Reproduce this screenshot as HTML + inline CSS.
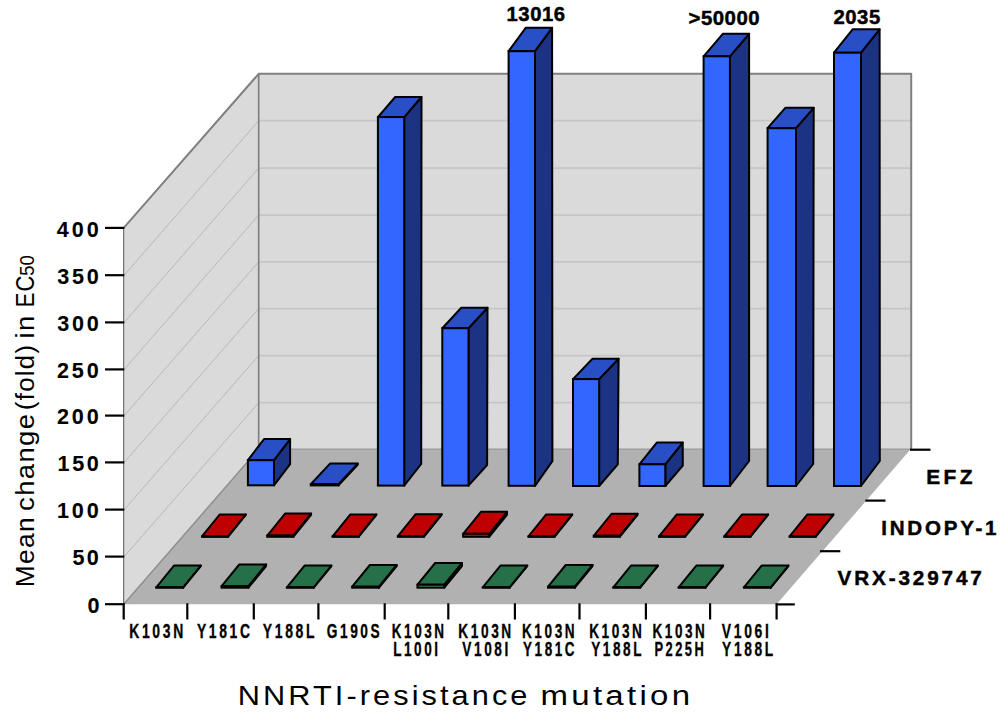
<!DOCTYPE html>
<html><head><meta charset="utf-8"><style>
html,body{margin:0;padding:0;background:#fff;}
svg{display:block;font-family:"Liberation Sans",sans-serif;}
text[font-weight=bold]{stroke:#000;stroke-width:0.45px;}
text.xl{stroke-width:0.3px;}
text.yl{stroke-width:0.1px;}
</style></head><body>
<svg width="1000" height="724" viewBox="0 0 1000 724">
<rect width="1000" height="724" fill="#fff"/>
<rect x="258.7" y="73.8" width="652.50" height="375.30" fill="#dadada"/>
<polygon points="123.7,227.9 258.7,73.8 258.7,449.1 123.7,604.3" fill="#dadada"/>
<line x1="258.7" y1="402.70" x2="911.2" y2="402.70" stroke="#c6c6c6" stroke-width="1.7"/>
<line x1="124.2" y1="556.60" x2="258.7" y2="402.70" stroke="#b8b8b8" stroke-width="1"/>
<line x1="258.7" y1="355.60" x2="911.2" y2="355.60" stroke="#c6c6c6" stroke-width="1.7"/>
<line x1="124.2" y1="509.60" x2="258.7" y2="355.60" stroke="#b8b8b8" stroke-width="1"/>
<line x1="258.7" y1="308.60" x2="911.2" y2="308.60" stroke="#c6c6c6" stroke-width="1.7"/>
<line x1="124.2" y1="462.40" x2="258.7" y2="308.60" stroke="#b8b8b8" stroke-width="1"/>
<line x1="258.7" y1="261.90" x2="911.2" y2="261.90" stroke="#c6c6c6" stroke-width="1.7"/>
<line x1="124.2" y1="415.60" x2="258.7" y2="261.90" stroke="#b8b8b8" stroke-width="1"/>
<line x1="258.7" y1="215.10" x2="911.2" y2="215.10" stroke="#c6c6c6" stroke-width="1.7"/>
<line x1="124.2" y1="369.40" x2="258.7" y2="215.10" stroke="#b8b8b8" stroke-width="1"/>
<line x1="258.7" y1="168.10" x2="911.2" y2="168.10" stroke="#c6c6c6" stroke-width="1.7"/>
<line x1="124.2" y1="322.40" x2="258.7" y2="168.10" stroke="#b8b8b8" stroke-width="1"/>
<line x1="258.7" y1="120.70" x2="911.2" y2="120.70" stroke="#c6c6c6" stroke-width="1.7"/>
<line x1="124.2" y1="275.20" x2="258.7" y2="120.70" stroke="#b8b8b8" stroke-width="1"/>
<polyline points="123.7,227.9 258.7,73.8 911.2,73.8 911.2,449.1" fill="none" stroke="#808080" stroke-width="2" stroke-linejoin="round"/>
<line x1="258.7" y1="73.8" x2="258.7" y2="449.1" stroke="#808080" stroke-width="1.7"/>
<polygon points="123.7,604.3 776.6,604.3 910.8000000000001,449.1 258.7,449.1" fill="#b1b1b1"/>
<line x1="258.7" y1="449.1" x2="911.2" y2="449.1" stroke="#9a9a9a" stroke-width="1.2"/>
<line x1="123.7" y1="604.3" x2="258.7" y2="449.1" stroke="#8e8e8e" stroke-width="1.5"/>
<line x1="123.7" y1="227.9" x2="123.7" y2="604.3" stroke="#555" stroke-width="1"/>
<line x1="105" y1="604.20" x2="124.30" y2="604.20" stroke="#000" stroke-width="2.2"/>
<line x1="105" y1="556.60" x2="124.30" y2="556.60" stroke="#000" stroke-width="2.2"/>
<line x1="105" y1="509.60" x2="124.30" y2="509.60" stroke="#000" stroke-width="2.2"/>
<line x1="105" y1="462.40" x2="124.30" y2="462.40" stroke="#000" stroke-width="2.2"/>
<line x1="105" y1="415.60" x2="124.30" y2="415.60" stroke="#000" stroke-width="2.2"/>
<line x1="105" y1="369.40" x2="124.30" y2="369.40" stroke="#000" stroke-width="2.2"/>
<line x1="105" y1="322.40" x2="124.30" y2="322.40" stroke="#000" stroke-width="2.2"/>
<line x1="105" y1="275.20" x2="124.30" y2="275.20" stroke="#000" stroke-width="2.2"/>
<line x1="105" y1="227.90" x2="124.30" y2="227.90" stroke="#000" stroke-width="2.2"/>
<line x1="123.70" y1="603.30" x2="123.70" y2="619.5" stroke="#000" stroke-width="2.2"/>
<line x1="187.30" y1="603.30" x2="187.30" y2="619.5" stroke="#000" stroke-width="2.2"/>
<line x1="253.80" y1="603.30" x2="253.80" y2="619.5" stroke="#000" stroke-width="2.2"/>
<line x1="318.40" y1="603.30" x2="318.40" y2="619.5" stroke="#000" stroke-width="2.2"/>
<line x1="384.70" y1="603.30" x2="384.70" y2="619.5" stroke="#000" stroke-width="2.2"/>
<line x1="448.30" y1="603.30" x2="448.30" y2="619.5" stroke="#000" stroke-width="2.2"/>
<line x1="514.90" y1="603.30" x2="514.90" y2="619.5" stroke="#000" stroke-width="2.2"/>
<line x1="579.50" y1="603.30" x2="579.50" y2="619.5" stroke="#000" stroke-width="2.2"/>
<line x1="645.90" y1="603.30" x2="645.90" y2="619.5" stroke="#000" stroke-width="2.2"/>
<line x1="710.10" y1="603.30" x2="710.10" y2="619.5" stroke="#000" stroke-width="2.2"/>
<line x1="776.60" y1="603.30" x2="776.60" y2="619.5" stroke="#000" stroke-width="2.2"/>
<line x1="775.80" y1="604.40" x2="794.80" y2="604.40" stroke="#000" stroke-width="2.2"/>
<line x1="820.00" y1="551.20" x2="840.30" y2="551.20" stroke="#000" stroke-width="2.2"/>
<line x1="865.30" y1="500.60" x2="885.50" y2="500.60" stroke="#000" stroke-width="2.2"/>
<line x1="910.00" y1="449.70" x2="930.50" y2="449.70" stroke="#000" stroke-width="2.2"/>
<polygon points="274.00,485.30 290.10,464.20 290.10,439.10 274.00,460.20" fill="#1c3282" stroke="#000" stroke-width="2.0" stroke-linejoin="round"/><polygon points="247.90,460.20 274.00,460.20 290.10,439.10 264.00,439.10" fill="#284fc6" stroke="#000" stroke-width="2.0" stroke-linejoin="round"/><rect x="247.90" y="460.20" width="26.10" height="25.10" fill="#3366ff" stroke="#000" stroke-width="2.0"/>
<polygon points="338.50,485.40 357.70,464.80 357.70,463.60 338.50,484.20" fill="#1c3282" stroke="#000" stroke-width="2.0" stroke-linejoin="round"/><polygon points="310.80,484.20 338.50,484.20 357.70,463.60 330.00,463.60" fill="#284fc6" stroke="#000" stroke-width="2.0" stroke-linejoin="round"/><rect x="310.80" y="484.20" width="27.70" height="1.20" fill="#3366ff" stroke="#000" stroke-width="2.0"/>
<polygon points="404.20,485.60 421.20,464.00 421.50,97.00 404.20,117.10" fill="#1c3282" stroke="#000" stroke-width="2.0" stroke-linejoin="round"/><polygon points="377.90,117.10 404.20,117.10 421.50,97.00 395.20,97.00" fill="#284fc6" stroke="#000" stroke-width="2.0" stroke-linejoin="round"/><rect x="377.90" y="117.10" width="26.30" height="368.50" fill="#3366ff" stroke="#000" stroke-width="2.0"/>
<polygon points="468.50,485.60 487.10,465.00 487.50,307.80 468.50,328.20" fill="#1c3282" stroke="#000" stroke-width="2.0" stroke-linejoin="round"/><polygon points="442.30,328.20 468.50,328.20 487.50,307.80 461.30,307.80" fill="#284fc6" stroke="#000" stroke-width="2.0" stroke-linejoin="round"/><rect x="442.30" y="328.20" width="26.20" height="157.40" fill="#3366ff" stroke="#000" stroke-width="2.0"/>
<polygon points="535.00,485.80 552.40,461.20 552.10,27.80 535.00,51.20" fill="#1c3282" stroke="#000" stroke-width="2.0" stroke-linejoin="round"/><polygon points="508.60,51.20 535.00,51.20 552.10,27.80 525.70,27.80" fill="#284fc6" stroke="#000" stroke-width="2.0" stroke-linejoin="round"/><rect x="508.60" y="51.20" width="26.40" height="434.60" fill="#3366ff" stroke="#000" stroke-width="2.0"/>
<polygon points="599.10,486.00 617.80,464.30 618.60,358.70 599.10,379.10" fill="#1c3282" stroke="#000" stroke-width="2.0" stroke-linejoin="round"/><polygon points="573.00,379.10 599.10,379.10 618.60,358.70 592.50,358.70" fill="#284fc6" stroke="#000" stroke-width="2.0" stroke-linejoin="round"/><rect x="573.00" y="379.10" width="26.10" height="106.90" fill="#3366ff" stroke="#000" stroke-width="2.0"/>
<polygon points="665.30,486.00 682.80,465.70 682.70,442.60 665.30,464.30" fill="#1c3282" stroke="#000" stroke-width="2.0" stroke-linejoin="round"/><polygon points="639.40,464.30 665.30,464.30 682.70,442.60 656.80,442.60" fill="#284fc6" stroke="#000" stroke-width="2.0" stroke-linejoin="round"/><rect x="639.40" y="464.30" width="25.90" height="21.70" fill="#3366ff" stroke="#000" stroke-width="2.0"/>
<polygon points="729.90,486.00 749.10,461.00 749.10,33.80 729.90,56.30" fill="#1c3282" stroke="#000" stroke-width="2.0" stroke-linejoin="round"/><polygon points="703.60,56.30 729.90,56.30 749.10,33.80 722.80,33.80" fill="#284fc6" stroke="#000" stroke-width="2.0" stroke-linejoin="round"/><rect x="703.60" y="56.30" width="26.30" height="429.70" fill="#3366ff" stroke="#000" stroke-width="2.0"/>
<polygon points="796.00,486.00 813.20,464.00 813.70,107.80 796.00,128.20" fill="#1c3282" stroke="#000" stroke-width="2.0" stroke-linejoin="round"/><polygon points="767.60,128.20 796.00,128.20 813.70,107.80 785.30,107.80" fill="#284fc6" stroke="#000" stroke-width="2.0" stroke-linejoin="round"/><rect x="767.60" y="128.20" width="28.40" height="357.80" fill="#3366ff" stroke="#000" stroke-width="2.0"/>
<polygon points="861.00,486.00 879.80,461.00 879.60,29.30 861.00,52.70" fill="#1c3282" stroke="#000" stroke-width="2.0" stroke-linejoin="round"/><polygon points="834.00,52.70 861.00,52.70 879.60,29.30 852.60,29.30" fill="#284fc6" stroke="#000" stroke-width="2.0" stroke-linejoin="round"/><rect x="834.00" y="52.70" width="27.00" height="433.30" fill="#3366ff" stroke="#000" stroke-width="2.0"/>
<polygon points="228.00,536.80 245.80,514.80 245.80,514.40 228.00,536.40" fill="#7a0000" stroke="#000" stroke-width="2.0" stroke-linejoin="round"/><polygon points="202.00,536.40 228.00,536.40 245.80,514.40 219.80,514.40" fill="#bf0000" stroke="#000" stroke-width="2.0" stroke-linejoin="round"/><rect x="202.00" y="536.40" width="26.00" height="0.40" fill="#e00000" stroke="#000" stroke-width="2.0"/>
<polygon points="293.29,536.80 311.09,514.80 311.09,513.60 293.29,535.60" fill="#7a0000" stroke="#000" stroke-width="2.0" stroke-linejoin="round"/><polygon points="267.29,535.60 293.29,535.60 311.09,513.60 285.09,513.60" fill="#bf0000" stroke="#000" stroke-width="2.0" stroke-linejoin="round"/><rect x="267.29" y="535.60" width="26.00" height="1.20" fill="#e00000" stroke="#000" stroke-width="2.0"/>
<polygon points="358.58,536.80 376.38,514.80 376.38,514.40 358.58,536.40" fill="#7a0000" stroke="#000" stroke-width="2.0" stroke-linejoin="round"/><polygon points="332.58,536.40 358.58,536.40 376.38,514.40 350.38,514.40" fill="#bf0000" stroke="#000" stroke-width="2.0" stroke-linejoin="round"/><rect x="332.58" y="536.40" width="26.00" height="0.40" fill="#e00000" stroke="#000" stroke-width="2.0"/>
<polygon points="423.87,536.80 441.67,514.80 441.67,514.20 423.87,536.20" fill="#7a0000" stroke="#000" stroke-width="2.0" stroke-linejoin="round"/><polygon points="397.87,536.20 423.87,536.20 441.67,514.20 415.67,514.20" fill="#bf0000" stroke="#000" stroke-width="2.0" stroke-linejoin="round"/><rect x="397.87" y="536.20" width="26.00" height="0.60" fill="#e00000" stroke="#000" stroke-width="2.0"/>
<polygon points="489.16,536.80 506.96,514.80 506.96,511.80 489.16,533.80" fill="#7a0000" stroke="#000" stroke-width="2.0" stroke-linejoin="round"/><polygon points="463.16,533.80 489.16,533.80 506.96,511.80 480.96,511.80" fill="#bf0000" stroke="#000" stroke-width="2.0" stroke-linejoin="round"/><rect x="463.16" y="533.80" width="26.00" height="3.00" fill="#e00000" stroke="#000" stroke-width="2.0"/>
<polygon points="554.45,536.80 572.25,514.80 572.25,514.40 554.45,536.40" fill="#7a0000" stroke="#000" stroke-width="2.0" stroke-linejoin="round"/><polygon points="528.45,536.40 554.45,536.40 572.25,514.40 546.25,514.40" fill="#bf0000" stroke="#000" stroke-width="2.0" stroke-linejoin="round"/><rect x="528.45" y="536.40" width="26.00" height="0.40" fill="#e00000" stroke="#000" stroke-width="2.0"/>
<polygon points="619.74,536.80 637.54,514.80 637.54,513.80 619.74,535.80" fill="#7a0000" stroke="#000" stroke-width="2.0" stroke-linejoin="round"/><polygon points="593.74,535.80 619.74,535.80 637.54,513.80 611.54,513.80" fill="#bf0000" stroke="#000" stroke-width="2.0" stroke-linejoin="round"/><rect x="593.74" y="535.80" width="26.00" height="1.00" fill="#e00000" stroke="#000" stroke-width="2.0"/>
<polygon points="685.03,536.80 702.83,514.80 702.83,514.40 685.03,536.40" fill="#7a0000" stroke="#000" stroke-width="2.0" stroke-linejoin="round"/><polygon points="659.03,536.40 685.03,536.40 702.83,514.40 676.83,514.40" fill="#bf0000" stroke="#000" stroke-width="2.0" stroke-linejoin="round"/><rect x="659.03" y="536.40" width="26.00" height="0.40" fill="#e00000" stroke="#000" stroke-width="2.0"/>
<polygon points="750.32,536.80 768.12,514.80 768.12,514.40 750.32,536.40" fill="#7a0000" stroke="#000" stroke-width="2.0" stroke-linejoin="round"/><polygon points="724.32,536.40 750.32,536.40 768.12,514.40 742.12,514.40" fill="#bf0000" stroke="#000" stroke-width="2.0" stroke-linejoin="round"/><rect x="724.32" y="536.40" width="26.00" height="0.40" fill="#e00000" stroke="#000" stroke-width="2.0"/>
<polygon points="815.61,536.80 833.41,514.80 833.41,514.40 815.61,536.40" fill="#7a0000" stroke="#000" stroke-width="2.0" stroke-linejoin="round"/><polygon points="789.61,536.40 815.61,536.40 833.41,514.40 807.41,514.40" fill="#bf0000" stroke="#000" stroke-width="2.0" stroke-linejoin="round"/><rect x="789.61" y="536.40" width="26.00" height="0.40" fill="#e00000" stroke="#000" stroke-width="2.0"/>
<polygon points="183.10,587.70 200.80,566.00 200.80,565.60 183.10,587.30" fill="#133a26" stroke="#000" stroke-width="2.0" stroke-linejoin="round"/><polygon points="156.30,587.30 183.10,587.30 200.80,565.60 174.00,565.60" fill="#267049" stroke="#000" stroke-width="2.0" stroke-linejoin="round"/><rect x="156.30" y="587.30" width="26.80" height="0.40" fill="#2f8a5a" stroke="#000" stroke-width="2.0"/>
<polygon points="248.39,587.70 266.09,566.00 266.09,564.50 248.39,586.20" fill="#133a26" stroke="#000" stroke-width="2.0" stroke-linejoin="round"/><polygon points="221.59,586.20 248.39,586.20 266.09,564.50 239.29,564.50" fill="#267049" stroke="#000" stroke-width="2.0" stroke-linejoin="round"/><rect x="221.59" y="586.20" width="26.80" height="1.50" fill="#2f8a5a" stroke="#000" stroke-width="2.0"/>
<polygon points="313.68,587.70 331.38,566.00 331.38,565.60 313.68,587.30" fill="#133a26" stroke="#000" stroke-width="2.0" stroke-linejoin="round"/><polygon points="286.88,587.30 313.68,587.30 331.38,565.60 304.58,565.60" fill="#267049" stroke="#000" stroke-width="2.0" stroke-linejoin="round"/><rect x="286.88" y="587.30" width="26.80" height="0.40" fill="#2f8a5a" stroke="#000" stroke-width="2.0"/>
<polygon points="378.97,587.70 396.67,566.00 396.67,565.00 378.97,586.70" fill="#133a26" stroke="#000" stroke-width="2.0" stroke-linejoin="round"/><polygon points="352.17,586.70 378.97,586.70 396.67,565.00 369.87,565.00" fill="#267049" stroke="#000" stroke-width="2.0" stroke-linejoin="round"/><rect x="352.17" y="586.70" width="26.80" height="1.00" fill="#2f8a5a" stroke="#000" stroke-width="2.0"/>
<polygon points="444.26,587.70 461.96,566.00 461.96,563.00 444.26,584.70" fill="#133a26" stroke="#000" stroke-width="2.0" stroke-linejoin="round"/><polygon points="417.46,584.70 444.26,584.70 461.96,563.00 435.16,563.00" fill="#267049" stroke="#000" stroke-width="2.0" stroke-linejoin="round"/><rect x="417.46" y="584.70" width="26.80" height="3.00" fill="#2f8a5a" stroke="#000" stroke-width="2.0"/>
<polygon points="509.55,587.70 527.25,566.00 527.25,565.60 509.55,587.30" fill="#133a26" stroke="#000" stroke-width="2.0" stroke-linejoin="round"/><polygon points="482.75,587.30 509.55,587.30 527.25,565.60 500.45,565.60" fill="#267049" stroke="#000" stroke-width="2.0" stroke-linejoin="round"/><rect x="482.75" y="587.30" width="26.80" height="0.40" fill="#2f8a5a" stroke="#000" stroke-width="2.0"/>
<polygon points="574.84,587.70 592.54,566.00 592.54,565.00 574.84,586.70" fill="#133a26" stroke="#000" stroke-width="2.0" stroke-linejoin="round"/><polygon points="548.04,586.70 574.84,586.70 592.54,565.00 565.74,565.00" fill="#267049" stroke="#000" stroke-width="2.0" stroke-linejoin="round"/><rect x="548.04" y="586.70" width="26.80" height="1.00" fill="#2f8a5a" stroke="#000" stroke-width="2.0"/>
<polygon points="640.13,587.70 657.83,566.00 657.83,565.60 640.13,587.30" fill="#133a26" stroke="#000" stroke-width="2.0" stroke-linejoin="round"/><polygon points="613.33,587.30 640.13,587.30 657.83,565.60 631.03,565.60" fill="#267049" stroke="#000" stroke-width="2.0" stroke-linejoin="round"/><rect x="613.33" y="587.30" width="26.80" height="0.40" fill="#2f8a5a" stroke="#000" stroke-width="2.0"/>
<polygon points="705.42,587.70 723.12,566.00 723.12,565.60 705.42,587.30" fill="#133a26" stroke="#000" stroke-width="2.0" stroke-linejoin="round"/><polygon points="678.62,587.30 705.42,587.30 723.12,565.60 696.32,565.60" fill="#267049" stroke="#000" stroke-width="2.0" stroke-linejoin="round"/><rect x="678.62" y="587.30" width="26.80" height="0.40" fill="#2f8a5a" stroke="#000" stroke-width="2.0"/>
<polygon points="770.71,587.70 788.41,566.00 788.41,565.60 770.71,587.30" fill="#133a26" stroke="#000" stroke-width="2.0" stroke-linejoin="round"/><polygon points="743.91,587.30 770.71,587.30 788.41,565.60 761.61,565.60" fill="#267049" stroke="#000" stroke-width="2.0" stroke-linejoin="round"/><rect x="743.91" y="587.30" width="26.80" height="0.40" fill="#2f8a5a" stroke="#000" stroke-width="2.0"/>
<text class="yl" x="87.44" y="612.90" font-size="21.57" font-weight="bold" letter-spacing="0.00">0</text>
<text class="yl" x="72.45" y="565.30" font-size="21.57" font-weight="bold" letter-spacing="2.37">50</text>
<text class="yl" x="56.91" y="518.30" font-size="21.57" font-weight="bold" letter-spacing="2.92">100</text>
<text class="yl" x="57.61" y="471.10" font-size="21.57" font-weight="bold" letter-spacing="2.57">150</text>
<text class="yl" x="56.95" y="424.30" font-size="21.57" font-weight="bold" letter-spacing="2.89">200</text>
<text class="yl" x="56.95" y="378.10" font-size="21.57" font-weight="bold" letter-spacing="2.89">250</text>
<text class="yl" x="57.17" y="331.10" font-size="21.57" font-weight="bold" letter-spacing="2.79">300</text>
<text class="yl" x="57.37" y="283.90" font-size="21.57" font-weight="bold" letter-spacing="2.69">350</text>
<text class="yl" x="56.87" y="236.60" font-size="21.57" font-weight="bold" letter-spacing="2.94">400</text>
<text x="506.58" y="21.00" font-size="20.29" font-weight="bold" letter-spacing="0.51">13016</text>
<text x="688.48" y="25.30" font-size="20.43" font-weight="bold" letter-spacing="0.50">&gt;50000</text>
<text x="833.39" y="23.80" font-size="20.29" font-weight="bold" letter-spacing="0.59">2035</text>
<text x="926.24" y="484.20" font-size="20.87" font-weight="bold" letter-spacing="3.37">EFZ</text>
<text x="881.16" y="534.60" font-size="20.57" font-weight="bold" letter-spacing="2.77">INDOPY-1</text>
<text x="837.49" y="585.30" font-size="20.71" font-weight="bold" letter-spacing="2.86">VRX-329747</text>
<text class="xl" transform="translate(129.22,637.60) scale(0.7176,1)" font-size="19.43" font-weight="bold" letter-spacing="3.69">K103N</text>
<text class="xl" transform="translate(196.92,637.60) scale(0.7154,1)" font-size="19.43" font-weight="bold" letter-spacing="3.69">Y181C</text>
<text class="xl" transform="translate(262.82,637.60) scale(0.7186,1)" font-size="19.43" font-weight="bold" letter-spacing="3.69">Y188L</text>
<text class="xl" transform="translate(326.65,637.60) scale(0.7062,1)" font-size="19.43" font-weight="bold" letter-spacing="3.69">G190S</text>
<text class="xl" transform="translate(391.75,637.60) scale(0.6955,1)" font-size="19.43" font-weight="bold" letter-spacing="3.69">K103N</text>
<text class="xl" transform="translate(393.15,655.50) scale(0.6976,1)" font-size="19.43" font-weight="bold" letter-spacing="3.69">L100I</text>
<text class="xl" transform="translate(458.24,637.60) scale(0.7051,1)" font-size="19.43" font-weight="bold" letter-spacing="3.69">K103N</text>
<text class="xl" transform="translate(462.26,655.50) scale(0.7034,1)" font-size="19.43" font-weight="bold" letter-spacing="3.69">V108I</text>
<text class="xl" transform="translate(521.95,637.60) scale(0.7010,1)" font-size="19.43" font-weight="bold" letter-spacing="3.69">K103N</text>
<text class="xl" transform="translate(523.03,655.50) scale(0.6936,1)" font-size="19.43" font-weight="bold" letter-spacing="3.69">Y181C</text>
<text class="xl" transform="translate(589.15,637.60) scale(0.7010,1)" font-size="19.43" font-weight="bold" letter-spacing="3.69">K103N</text>
<text class="xl" transform="translate(591.13,655.50) scale(0.6989,1)" font-size="19.43" font-weight="bold" letter-spacing="3.69">Y188L</text>
<text class="xl" transform="translate(652.56,637.60) scale(0.6941,1)" font-size="19.43" font-weight="bold" letter-spacing="3.69">K103N</text>
<text class="xl" transform="translate(654.50,655.50) scale(0.6644,1)" font-size="19.43" font-weight="bold" letter-spacing="3.69">P225H</text>
<text class="xl" transform="translate(721.76,637.60) scale(0.7190,1)" font-size="19.43" font-weight="bold" letter-spacing="3.69">V106I</text>
<text class="xl" transform="translate(722.12,655.50) scale(0.7088,1)" font-size="19.43" font-weight="bold" letter-spacing="3.69">Y188L</text>
<text transform="translate(237.74,705.30) scale(1.1216,1)" font-size="27.40" letter-spacing="2.74">NNRTI-resistance</text><text transform="translate(540.49,705.30) scale(1.2044,1)" font-size="27.40" letter-spacing="2.74">mutation</text>
<g transform="translate(34.1,0) rotate(-90)"><text transform="translate(-587.31,0.00) scale(1.0028,1)" font-size="26.30" letter-spacing="1.32">Mean</text><text transform="translate(-510.90,0.00) scale(1.0426,1)" font-size="26.30" letter-spacing="1.32">change</text><text transform="translate(-410.15,0.00) scale(0.9813,1)" font-size="26.30" letter-spacing="1.32">(fold)</text><text transform="translate(-338.43,0.00) scale(1.0470,1)" font-size="26.30" letter-spacing="1.32">in</text><text transform="translate(-307.36,0.00) scale(0.8353,1)" font-size="26.30" letter-spacing="1.32">EC</text><text transform="translate(-275.74,0) scale(0.9272,1)" font-size="20.00">50</text></g>
</svg></body></html>
